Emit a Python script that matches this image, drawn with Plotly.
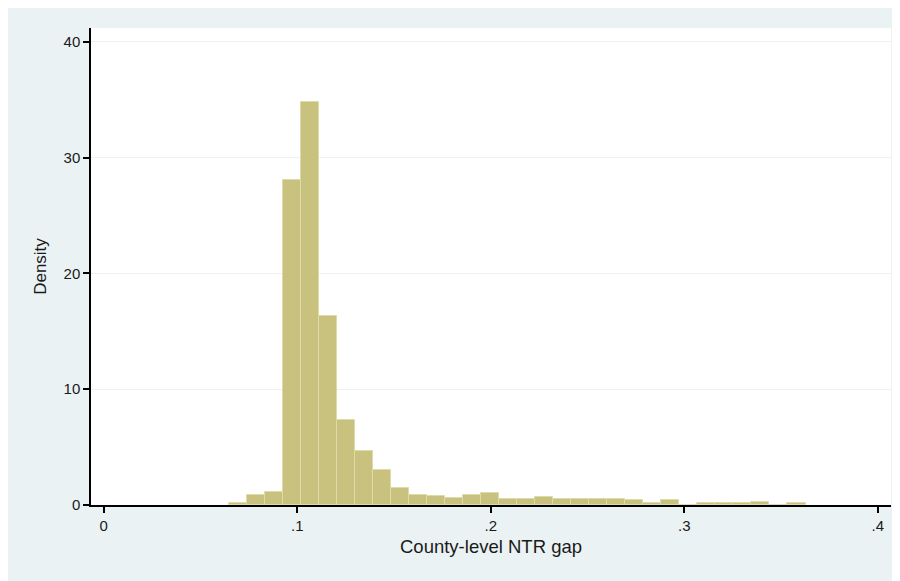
import plotly.graph_objects as go

# Histogram data (density per bin)
bin_start = 0.0647
bin_width = 0.00931
density = [0.2, 0.86, 1.15, 28.1, 34.8, 16.3, 7.3, 4.7, 3.0, 1.43,
           0.9, 0.78, 0.63, 0.9, 1.06, 0.5, 0.5, 0.66, 0.52, 0.52,
           0.52, 0.5, 0.4, 0.13, 0.4, 0.0, 0.15, 0.15, 0.15, 0.3,
           0.0, 0.15]

x_tick_vals = [0, 0.1, 0.2, 0.3, 0.4]
x_tick_text = ["0", ".1", ".2", ".3", ".4"]
y_tick_vals = [0, 10, 20, 30, 40]
y_tick_text = ["0", "10", "20", "30", "40"]

centers = [bin_start + bin_width * (i + 0.5) for i in range(len(density))]

W, H = 910, 581
L, R, T, B = 83, 27, 20, 84

fig = go.Figure()
fig.add_trace(go.Bar(
    x=centers, y=density, width=[bin_width] * len(density),
    marker=dict(color="#c9c27e", line=dict(color="#dfdba8", width=1)),
    hoverinfo="x+y",
))

font = "Liberation Sans, Arial, sans-serif"
fig.update_layout(
    width=W, height=H,
    margin=dict(l=L, r=R, t=T, b=B, pad=0),
    paper_bgcolor="#eaf2f3",
    plot_bgcolor="#ffffff",
    showlegend=False,
    bargap=0,
    font=dict(family=font, color="#1a1a1a", size=14),
    xaxis=dict(
        range=[-0.00657, 0.4068], tickvals=x_tick_vals, ticktext=x_tick_text,
        showgrid=False, zeroline=False, showline=True, linecolor="#000000",
        linewidth=1.5, ticks="outside", ticklen=6, tickcolor="#000000",
        tickwidth=1.5, tickfont=dict(size=15, family=font),
        title=dict(text="County-level NTR gap", font=dict(size=18.5, family=font), standoff=7),
    ),
    yaxis=dict(
        range=[0, 41.2], tickvals=y_tick_vals, ticktext=y_tick_text,
        showgrid=True, gridcolor="#eaf2f3", gridwidth=1, zeroline=False,
        showline=True, linecolor="#000000", linewidth=1.5, ticks="outside",
        ticklen=6, tickcolor="#000000", tickwidth=1.5,
        tickfont=dict(size=15, family=font),
        title=dict(text="Density", font=dict(size=17, family=font), standoff=13),
    ),
)

fig.write_html("out.html")
